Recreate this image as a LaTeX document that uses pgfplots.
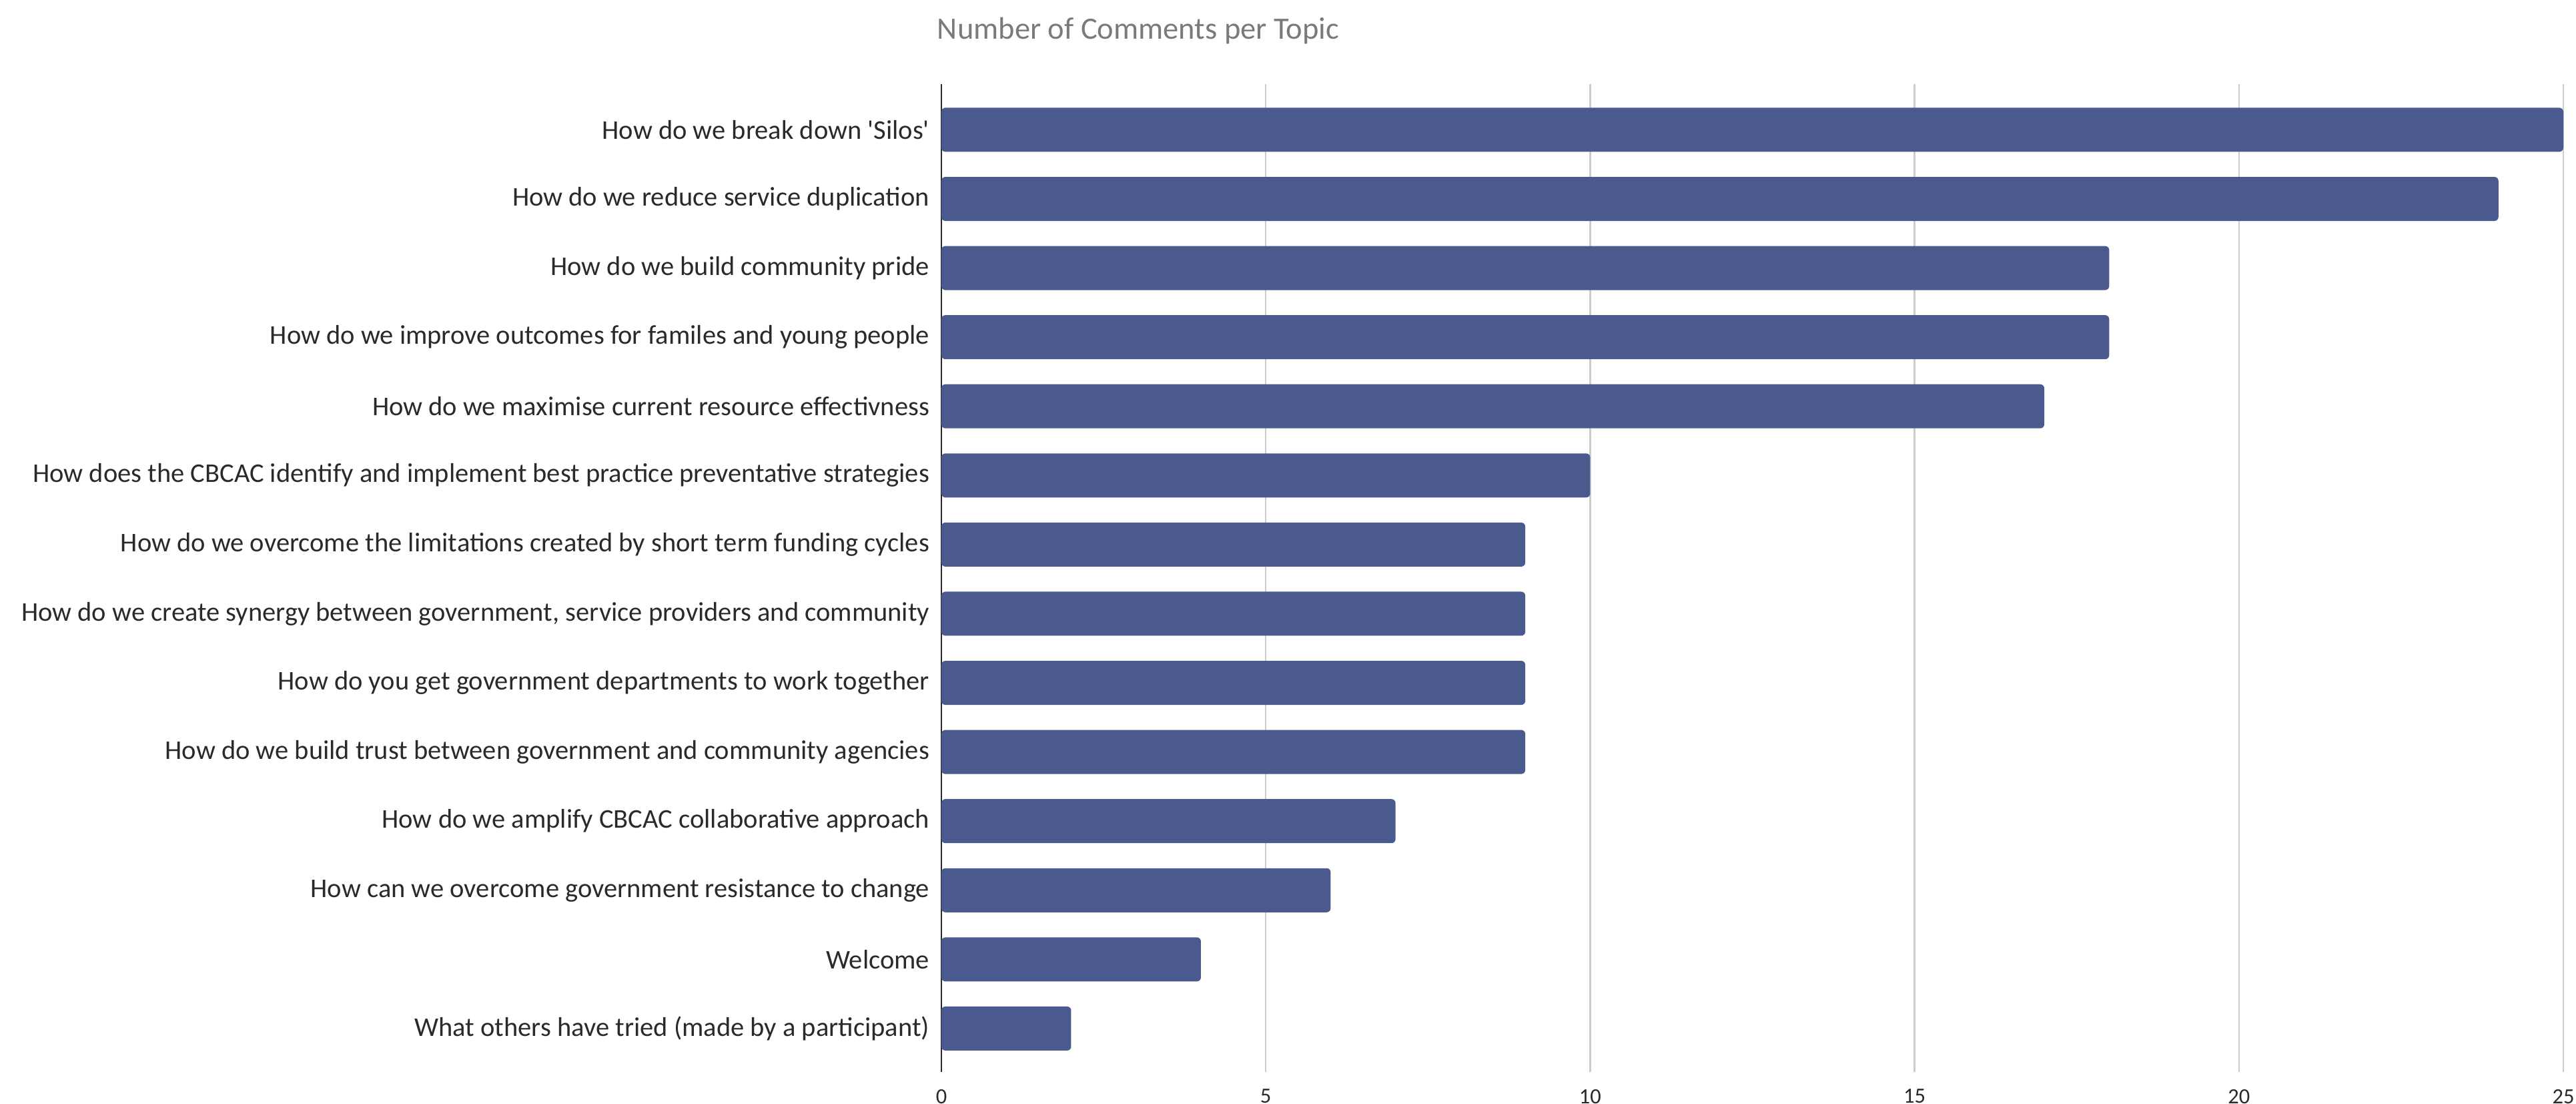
\documentclass[border=0pt]{standalone}
\usepackage{pgfplots}
\pgfplotsset{compat=1.18}
\usepackage{fontspec}
\setmainfont{Carlito}[Ligatures=TeXOff]
\definecolor{barc}{HTML}{4B5A8E}
\definecolor{gridc}{HTML}{CCCCCC}
\definecolor{titlec}{HTML}{7A7A7A}
\definecolor{labc}{HTML}{2A2A2A}
\begin{document}
\begin{tikzpicture}[x=1pt,y=1pt]
\path[use as bounding box] (0,0) rectangle (772.2,330.8);
\begin{axis}[
  at={(282.2pt,9.6pt)}, anchor=south west,
  scale only axis, width=486.2pt, height=296pt,
  xmin=0, xmax=25, ymin=-0.628, ymax=13.661,
  axis y line*=left, axis x line*=bottom,
  x axis line style={draw=none},
  y axis line style={draw=labc, line width=0.5pt},
  xtick={0,5,10,15,20,25},
  xmajorgrids, grid style={gridc, line width=0.5pt},
  major tick length=0pt,
  ytick={0,...,13},
  yticklabels={
    What others have tried (made by a participant),
    Welcome,
    How can we overcome government resistance to change,
    How do we amplify CBCAC collaborative approach,
    How do we build trust between government and community agencies,
    How do you get government departments to work together,
    {How do we create synergy between government, service providers and community},
    How do we overcome the limitations created by short term funding cycles,
    How does the CBCAC identify and implement best practice preventative strategies,
    How do we maximise current resource effectivness,
    How do we improve outcomes for familes and young people,
    How do we build community pride,
    How do we reduce service duplication,
    How do we break down 'Silos'},
  yticklabel style={font=\fontsize{8.1}{9.5}\selectfont, text=labc, inner sep=0pt, xshift=-3.4pt},
  xticklabel style={font=\fontsize{6.5}{8}\selectfont, text=labc, inner sep=0pt, yshift=-5pt},
  /pgf/number format/assume math mode=true,
  title={Number of Comments per Topic},
  title style={font=\fontsize{9.3}{11}\selectfont, text=titlec, at={(0.1214,1)}, anchor=center, yshift=10pt},
  clip=false,
]
\addplot[xbar, bar width=13.2pt, fill=barc, draw=none, rounded corners=1.2pt] coordinates {
  (2,0) (4,1) (6,2) (7,3) (9,4) (9,5) (9,6) (9,7) (10,8) (17,9) (18,10) (18,11) (24,12) (25,13)
};
\end{axis}
\end{tikzpicture}
\end{document}
